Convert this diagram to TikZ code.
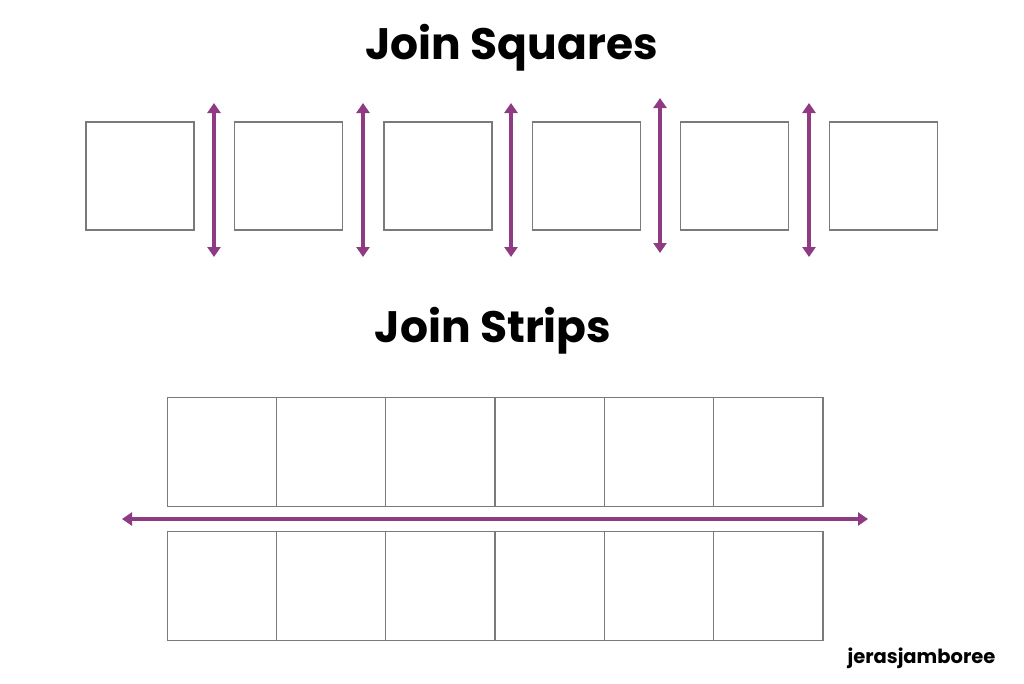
\documentclass[tikz,border=0pt]{standalone}
\usepackage{fontspec}
\setmainfont{Poppins}
\usepackage{tikz}
\usetikzlibrary{arrows.meta}
\definecolor{joinpurple}{HTML}{8E3B84}
\definecolor{sqgray}{HTML}{7A7A7A}

\begin{document}
\begin{tikzpicture}[x=1pt,y=-1pt,
  sq/.style={draw=sqgray, line width=1.1pt, minimum size=108pt, inner sep=0pt},
  strip/.style={draw=sqgray, line width=1.1pt, minimum width=109.3pt, minimum height=109pt, inner sep=0pt},
  joinarrow/.style={joinpurple, line width=3.3pt, {Triangle[width=13pt,length=10pt]}-{Triangle[width=13pt,length=10pt]}},
  title/.style={font=\fontsize{44}{44}\selectfont\bfseries, anchor=base}]
\useasboundingbox (0,0) rectangle (1024,683);

\node[title] (titlesq) at (511.5,59) {Join Squares};

% row of single squares
\node[sq] (sqA) at (140,176) {};
\node[sq] (sqB) at (288.5,176) {};
\node[sq] (sqC) at (438,176) {};
\node[sq] (sqD) at (586.5,176) {};
\node[sq] (sqE) at (734.5,176) {};
\node[sq] (sqF) at (883.5,176) {};

% join arrows between squares
\coordinate (jAtop) at (214,103); \coordinate (jAbot) at (214,257);
\coordinate (jBtop) at (363,103); \coordinate (jBbot) at (363,257);
\coordinate (jCtop) at (511,103); \coordinate (jCbot) at (511,257);
\coordinate (jDtop) at (660,98);  \coordinate (jDbot) at (660,253);
\coordinate (jEtop) at (809,103); \coordinate (jEbot) at (809,257);
\draw[joinarrow] (jAtop) -- (jAbot);
\draw[joinarrow] (jBtop) -- (jBbot);
\draw[joinarrow] (jCtop) -- (jCbot);
\draw[joinarrow] (jDtop) -- (jDbot);
\draw[joinarrow] (jEtop) -- (jEbot);

\node[title] (titlest) at (493,342) {Join Strips};

% upper strip
\node[strip] (upA) at (221.7,452) {};
\node[strip] (upB) at (331,452) {};
\node[strip] (upC) at (440.3,452) {};
\node[strip] (upD) at (549.7,452) {};
\node[strip] (upE) at (659,452) {};
\node[strip] (upF) at (768.3,452) {};

% lower strip
\node[strip] (loA) at (221.7,586) {};
\node[strip] (loB) at (331,586) {};
\node[strip] (loC) at (440.3,586) {};
\node[strip] (loD) at (549.7,586) {};
\node[strip] (loE) at (659,586) {};
\node[strip] (loF) at (768.3,586) {};

% join arrow between strips
\coordinate (stripL) at (122,519);
\coordinate (stripR) at (868,519);
\draw[joinarrow] (stripL) -- (stripR);

\node[font=\fontsize{19.5}{19.5}\selectfont\bfseries, anchor=base west] (mark) at (844,663) {jerasjamboree};

\end{tikzpicture}
\end{document}
